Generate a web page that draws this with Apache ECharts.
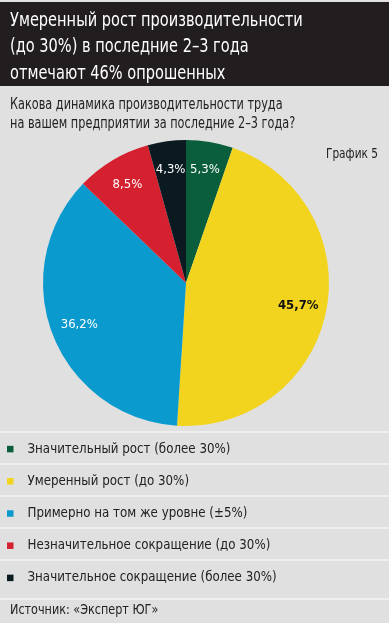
<!DOCTYPE html>
<html><head><meta charset="utf-8">
<script src="https://cdn.jsdelivr.net/npm/echarts@6/dist/echarts.min.js"></script>
<style>html,body{margin:0;padding:0;background:#e0e0e0}#c{width:389px;height:623px}</style>
</head><body><div id="c"></div>
<script>
const categories = [
  'Значительный рост (более 30%)',
  'Умеренный рост (до 30%)',
  'Примерно на том же уровне (±5%)',
  'Незначительное сокращение (до 30%)',
  'Значительное сокращение (более 30%)'
];
const values = [5.3, 45.7, 36.2, 8.5, 4.3];
const colors = ['#0b5e3b', '#f2d41f', '#0a9ace', '#d5202f', '#0b1a20'];
const labelColors = ['#ffffff', '#111111', '#ffffff', '#ffffff', '#ffffff'];
const headerLines = ['Умеренный рост производительности', '(до 30%) в последние 2–3 года', 'отмечают 46% опрошенных'];
const questionLines = ['Какова динамика производительности труда', 'на вашем предприятии за последние 2–3 года?'];
const chartTag = 'График 5';
const sourceText = 'Источник: «Эксперт ЮГ»';

const FONT = "'DejaVu Sans Condensed', 'Liberation Sans Narrow', sans-serif";
const chart = echarts.init(document.getElementById('c'), null, {renderer: 'canvas'});
const fmt = v => v.toFixed(1).replace('.', ',') + '%';

const pieData = categories.map((n, i) => ({name: n, value: values[i], itemStyle: {color: colors[i]}}));
const labelData = categories.map((n, i) => ({
  name: n, value: values[i],
  label: {color: labelColors[i], fontWeight: i === 1 ? 'bold' : 'normal'}
}));

function txt(text, x, y, size, color, sx, align) {
  return {type: 'text', x: x, y: y, scaleX: sx, silent: true,
    style: {text: text, fill: color, font: size + 'px ' + FONT, textAlign: align || 'left', textVerticalAlign: 'middle'}};
}

const sepYs = [432, 464, 496, 528, 560, 599];
const graphics = [
  {type: 'rect', shape: {x: 0, y: 2, width: 389, height: 84}, style: {fill: '#221e1f'}, z: -1, silent: true}
].concat(sepYs.map(y => ({type: 'line', silent: true, shape: {x1: 0, y1: y, x2: 389, y2: y}, style: {stroke: '#f5f5f5', lineWidth: 1.5}})))
 .concat(headerLines.map((t, i) => txt(t, 10, 20.5 + i * 26.5, 20, '#ffffff', 0.81)))
 .concat(questionLines.map((t, i) => txt(t, 10, 105 + i * 19, 15.5, '#222222', 0.81)))
 .concat([txt(chartTag, 378, 154, 14, '#222222', 0.84, 'right'),
          txt(sourceText, 10, 610, 14.5, '#222222', 0.86)]);

chart.setOption({
  backgroundColor: '#e0e0e0',
  animation: false,
  graphic: graphics,
  legend: {
    orient: 'vertical', left: 7, top: 441, padding: 0, itemWidth: 6.5, itemHeight: 6.5, itemGap: 16,
    icon: 'rect', selectedMode: false,
    data: categories,
    textStyle: {fontFamily: FONT, fontSize: 13.2, color: '#222', padding: [0, 0, 0, 9], lineHeight: 16.2}
  },
  series: [
    {type: 'pie', center: [186, 283], radius: [0, 143], startAngle: 90, clockwise: true,
     data: pieData, label: {show: false}, labelLine: {show: false}, silent: true},
    {type: 'pie', center: [186, 283], radius: [80, 143], startAngle: 90, clockwise: true,
     data: labelData, silent: true, itemStyle: {color: 'rgba(0,0,0,0)'},
     label: {show: true, position: 'inside', fontFamily: FONT, fontSize: 13,
             formatter: p => fmt(p.value)},
     labelLine: {show: false}}
  ]
});
</script></body></html>
